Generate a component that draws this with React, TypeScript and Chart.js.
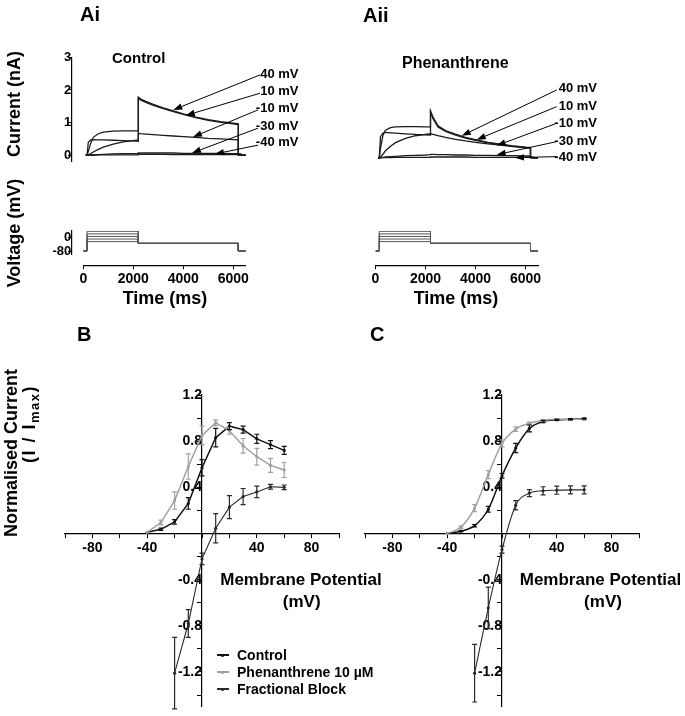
import React, { useEffect, useRef } from "react";
import { Chart, registerables } from "chart.js";

Chart.register(...registerables);

const PAGE_W = 685;
const PAGE_H = 716;
const FONT = "'Liberation Sans', Arial, Helvetica, sans-serif";

// ---------------- Panel A : current traces ----------------
const traceTimes = [100, 150, 200, 300, 400, 600, 800, 1200, 1600, 2000, 2199, 2200, 2300, 2500, 2800, 3200, 3600, 4000, 4500, 5000, 5500, 6000, 6199, 6200, 6350, 6500];
const stepLabels = ["40 mV", "10 mV", "-10 mV", "-30 mV", "-40 mV"];

const controlPlus40 = [0, 0, 0.40, 0.47, 0.48, 0.47, 0.47, 0.46, 0.45, 0.44, 0.43, 1.78, 1.72, 1.65, 1.56, 1.45, 1.36, 1.27, 1.17, 1.09, 1.03, 0.98, 0.96, 0.06, 0.02, 0];
const controlPlus10 = [0, 0, 0.12, 0.38, 0.55, 0.66, 0.71, 0.74, 0.75, 0.75, 0.74, 1.74, 1.69, 1.62, 1.53, 1.43, 1.34, 1.25, 1.15, 1.07, 1.01, 0.96, 0.94, 0.05, 0.02, 0];
const controlMinus10 = [0, 0, 0.01, 0.05, 0.10, 0.18, 0.25, 0.34, 0.41, 0.45, 0.47, 0.67, 0.66, 0.65, 0.63, 0.61, 0.59, 0.57, 0.55, 0.52, 0.50, 0.48, 0.47, 0.03, 0.01, 0];
const controlMinus30 = [0, 0, 0, 0.01, 0.01, 0.02, 0.03, 0.04, 0.05, 0.05, 0.06, 0.07, 0.07, 0.07, 0.07, 0.07, 0.07, 0.06, 0.06, 0.06, 0.06, 0.05, 0.05, 0.01, 0, 0];
const controlMinus40 = [0, 0, 0, 0, 0, 0.01, 0.01, 0.01, 0.01, 0.01, 0.01, 0.03, 0.03, 0.03, 0.03, 0.03, 0.02, 0.02, 0.02, 0.02, 0.02, 0.02, 0.02, 0, 0, 0];

const phenPlus40 = [0, 0, 0.65, 0.76, 0.78, 0.77, 0.76, 0.74, 0.72, 0.71, 0.70, 1.44, 1.25, 0.98, 0.84, 0.73, 0.63, 0.56, 0.48, 0.42, 0.37, 0.33, 0.32, 0.03, 0.01, 0];
const phenPlus10 = [0, 0, 0.30, 0.70, 0.85, 0.93, 0.95, 0.96, 0.96, 0.95, 0.95, 1.40, 1.20, 0.95, 0.81, 0.70, 0.61, 0.54, 0.46, 0.41, 0.36, 0.32, 0.31, 0.03, 0.01, 0];
const phenMinus10 = [0, 0, 0.03, 0.12, 0.22, 0.36, 0.47, 0.60, 0.68, 0.72, 0.74, 0.74, 0.72, 0.68, 0.63, 0.57, 0.52, 0.48, 0.43, 0.39, 0.35, 0.31, 0.30, 0.02, 0.01, 0];
const phenMinus30 = [0, 0, 0.01, 0.02, 0.03, 0.04, 0.05, 0.07, 0.08, 0.09, 0.10, 0.11, 0.11, 0.10, 0.10, 0.09, 0.09, 0.08, 0.08, 0.07, 0.07, 0.06, 0.06, 0.01, 0, 0];
const phenMinus40 = [0, 0, 0, 0.01, 0.01, 0.01, 0.02, 0.02, 0.02, 0.02, 0.02, 0.03, 0.03, 0.03, 0.03, 0.03, 0.03, 0.02, 0.02, 0.02, 0.02, 0.02, 0.02, 0, 0, 0];

const currentTicks = [0, 1, 2, 3];

// arrows: [tailTime, tailCurrent, headTime, headCurrent]
const controlArrows = [
  [7068, 2.46, 3600, 1.39],
  [7068, 1.90, 4100, 1.22],
  [6988, 1.39, 4388, 0.56],
  [6988, 0.83, 4348, 0.07],
  [6988, 0.31, 5268, 0.04],
];
const phenArrows = [
  [7248, 2.08, 3450, 0.68],
  [7248, 1.57, 4048, 0.56],
  [7248, 1.06, 4848, 0.38],
  [7248, 0.50, 4848, 0.10],
  [7248, 0.04, 5580, 0.01],
];

// ---------------- Panel A : voltage protocol ----------------
const protocolTimes = [0, 150, 2200, 6200, 6500];
const holdLevel = -80;
const stepLevels = [35, 20, 5, -10, -25];
const tailLevel = -35;
const voltageTicks = [-80, 0];
const timeTicks = [0, 2000, 4000, 6000];

// ---------------- Panels B and C ----------------
const seriesNames = ["Control", "Phenanthrene 10 µM", "Fractional Block"];
const potentials = [-40, -30, -20, -10, 0, 10, 20, 30, 40, 50, 60];
const blockPotentials = [-20, -10, 0, 10, 20, 30, 40, 50, 60];

const bControl = [0.01, 0.036, 0.10, 0.26, 0.57, 0.83, 0.93, 0.90, 0.82, 0.77, 0.72];
const bControlErr = [0, 0.01, 0.02, 0.05, 0.07, 0.08, 0.03, 0.03, 0.04, 0.035, 0.035];
const bPhen = [0.01, 0.095, 0.285, 0.58, 0.85, 0.96, 0.89, 0.76, 0.665, 0.59, 0.55];
const bPhenErr = [0, 0.02, 0.075, 0.11, 0.08, 0.025, 0.03, 0.063, 0.073, 0.06, 0.065];
const bBlock = [-1.21, -0.78, -0.22, 0.045, 0.228, 0.32, 0.36, 0.405, 0.40];
const bBlockErr = [0.31, 0.12, 0.05, 0.127, 0.10, 0.07, 0.05, 0.02, 0.02];

const cControl = [0, 0.02, 0.068, 0.21, 0.50, 0.74, 0.91, 0.97, 0.985, 0.99, 0.995];
const cControlErr = [0, 0.005, 0.01, 0.025, 0.02, 0.04, 0.03, 0.01, 0.005, 0.005, 0.005];
const cPhen = [0, 0.055, 0.22, 0.51, 0.78, 0.905, 0.955, 0.98, 0.99, 0.99, 0.99];
const cPhenErr = [0, 0.01, 0.03, 0.035, 0.03, 0.02, 0.01, 0.005, 0.005, 0.005, 0.005];
const cBlock = [-1.21, -0.645, -0.14, 0.245, 0.35, 0.37, 0.375, 0.378, 0.378];
const cBlockErr = [0.25, 0.18, 0.03, 0.04, 0.03, 0.035, 0.035, 0.035, 0.035];

const ivXTicks = [-100, -80, -60, -40, -20, 0, 20, 40, 60, 80, 100];
const ivXLabels = ["", "-80", "", "-40", "", "", "", "40", "", "80", ""];
const ivYTicks = [-1.4, -1.2, -1.0, -0.8, -0.6, -0.4, -0.2, 0, 0.2, 0.4, 0.6, 0.8, 1.0, 1.2];
const ivYLabels = ["", "-1.2", "", "-0.8", "", "-0.4", "", "", "", "0.4", "", "0.8", "", "1.2"];

// ---------------- styles ----------------
const BLACK = "#111111";
const GREY = "#a0a0a0";
const BLOCK = "#2a2a2a";
const TRACE = "#1c1c1c";

type Box = { l: number; t: number; r: number; b: number };

function padding(box: Box) {
  return { left: box.l, top: box.t, right: PAGE_W - box.r, bottom: PAGE_H - box.b };
}

function zeroSize(scale: any) {
  if (scale.isHorizontal()) scale.height = 0;
  else scale.width = 0;
}

function setTicks(values: number[]) {
  return (scale: any) => {
    scale.ticks = values.map((v) => ({ value: v }));
  };
}

const errorBarPlugin = {
  id: "errorBars",
  afterDatasetsDraw(chart: any) {
    const { ctx } = chart;
    const xs = chart.scales.x;
    const ys = chart.scales.y;
    chart.data.datasets.forEach((ds: any) => {
      if (!ds.errors) return;
      ctx.save();
      ctx.strokeStyle = ds.borderColor;
      ctx.lineWidth = 1.2;
      ds.data.forEach((p: any, j: number) => {
        const e = ds.errors[j];
        if (!e) return;
        const px = xs.getPixelForValue(p.x);
        const top = ys.getPixelForValue(p.y + e);
        const bot = ys.getPixelForValue(p.y - e);
        ctx.beginPath();
        ctx.moveTo(px, top);
        ctx.lineTo(px, bot);
        ctx.moveTo(px - 2.5, top);
        ctx.lineTo(px + 2.5, top);
        ctx.moveTo(px - 2.5, bot);
        ctx.lineTo(px + 2.5, bot);
        ctx.stroke();
      });
      ctx.restore();
    });
  },
};

function arrowPlugin(items: number[][]) {
  return {
    id: "arrows",
    afterDraw(chart: any) {
      const { ctx } = chart;
      const xs = chart.scales.x;
      const ys = chart.scales.y;
      ctx.save();
      ctx.strokeStyle = "#000";
      ctx.fillStyle = "#000";
      ctx.lineWidth = 1;
      items.forEach(([t0, i0, t1, i1]) => {
        const x0 = xs.getPixelForValue(t0);
        const y0 = ys.getPixelForValue(i0);
        const x1 = xs.getPixelForValue(t1);
        const y1 = ys.getPixelForValue(i1);
        const ang = Math.atan2(y1 - y0, x1 - x0);
        const len = 9;
        const half = 3.2;
        const bx = x1 - len * Math.cos(ang);
        const by = y1 - len * Math.sin(ang);
        ctx.beginPath();
        ctx.moveTo(x0, y0);
        ctx.lineTo(bx, by);
        ctx.stroke();
        ctx.beginPath();
        ctx.moveTo(x1, y1);
        ctx.lineTo(bx + half * Math.sin(ang), by - half * Math.cos(ang));
        ctx.lineTo(bx - half * Math.sin(ang), by + half * Math.cos(ang));
        ctx.closePath();
        ctx.fill();
      });
      ctx.restore();
    },
  };
}

const tickFont = (size: number) => ({ family: FONT, size, weight: "bold" as const });
const plainLabel = (v: any) => String(v);

function currentChart(canvas: HTMLCanvasElement, box: Box, traces: number[][], arrows: number[][], showAxis: boolean) {
  return new Chart(canvas, {
    type: "line",
    data: {
      datasets: traces.map((vals, k) => ({
        label: stepLabels[k],
        data: traceTimes.map((t, i) => ({ x: t, y: vals[i] })),
        borderColor: TRACE,
        borderWidth: 1.3,
        pointRadius: 0,
        tension: 0,
        fill: false,
      })),
    },
    options: {
      responsive: false,
      animation: false,
      devicePixelRatio: 1,
      layout: { padding: padding(box) },
      plugins: { legend: { display: false }, tooltip: { enabled: false } },
      scales: {
        x: { type: "linear", min: -480, max: 6500, display: false },
        y: {
          type: "linear",
          min: -0.2,
          max: 3,
          display: showAxis,
          position: { x: -480 } as any,
          afterFit: zeroSize,
          afterBuildTicks: setTicks(currentTicks),
          grid: { drawOnChartArea: false, tickLength: 3, color: "#000" },
          border: { color: "#000", width: 1.2 },
          ticks: { color: "#000", font: tickFont(13), padding: 2, callback: plainLabel },
        },
      },
    },
    plugins: [arrowPlugin(arrows)],
  });
}

function voltageChart(canvas: HTMLCanvasElement, box: Box, showY: boolean) {
  const [t0, tStep, tTest, tEnd, tLast] = protocolTimes;
  return new Chart(canvas, {
    type: "line",
    data: {
      datasets: stepLevels.map((lv) => ({
        data: [
          { x: t0, y: holdLevel },
          { x: tStep, y: holdLevel },
          { x: tStep, y: lv },
          { x: tTest, y: lv },
          { x: tTest, y: tailLevel },
          { x: tEnd, y: tailLevel },
          { x: tEnd, y: holdLevel },
          { x: tLast, y: holdLevel },
        ],
        borderColor: "#555",
        borderWidth: 1,
        pointRadius: 0,
        tension: 0,
        fill: false,
      })),
    },
    options: {
      responsive: false,
      animation: false,
      devicePixelRatio: 1,
      layout: { padding: padding(box) },
      plugins: { legend: { display: false }, tooltip: { enabled: false } },
      scales: {
        x: {
          type: "linear",
          min: 0,
          max: 6500,
          position: { y: -168 } as any,
          afterFit: zeroSize,
          afterBuildTicks: setTicks(timeTicks),
          grid: { drawOnChartArea: false, tickLength: 3, color: "#000" },
          border: { color: "#000", width: 1.2 },
          ticks: { color: "#000", font: tickFont(14), padding: 2, maxRotation: 0, callback: plainLabel },
        },
        y: {
          type: "linear",
          min: -98,
          max: 37,
          display: showY,
          position: { x: -480 } as any,
          afterFit: zeroSize,
          afterBuildTicks: setTicks(voltageTicks),
          grid: { drawOnChartArea: false, tickLength: 3, color: "#000" },
          border: { color: "#000", width: 1.2 },
          ticks: { color: "#000", font: tickFont(13), padding: 2, callback: plainLabel },
        },
      },
    },
  });
}

function ivChart(
  canvas: HTMLCanvasElement,
  box: Box,
  control: number[],
  controlErr: number[],
  phen: number[],
  phenErr: number[],
  block: number[],
  blockErr: number[],
  smooth: boolean
) {
  const lineOpts = (color: string, width: number) => ({
    borderColor: color,
    backgroundColor: color,
    borderWidth: width,
    pointRadius: 1.6,
    pointBorderWidth: 0,
    tension: smooth ? 0.35 : 0,
    cubicInterpolationMode: smooth ? ("monotone" as const) : ("default" as const),
    fill: false,
  });
  return new Chart(canvas, {
    type: "line",
    data: {
      datasets: [
        {
          label: seriesNames[2],
          data: blockPotentials.map((v, i) => ({ x: v, y: block[i] })),
          errors: blockErr,
          ...lineOpts(BLOCK, 1.1),
        } as any,
        {
          label: seriesNames[1],
          data: potentials.map((v, i) => ({ x: v, y: phen[i] })),
          errors: phenErr,
          ...lineOpts(GREY, 1.5),
        } as any,
        {
          label: seriesNames[0],
          data: potentials.map((v, i) => ({ x: v, y: control[i] })),
          errors: controlErr,
          ...lineOpts(BLACK, 1.5),
        } as any,
      ],
    },
    options: {
      responsive: false,
      animation: false,
      devicePixelRatio: 1,
      layout: { padding: padding(box) },
      plugins: { legend: { display: false }, tooltip: { enabled: false } },
      scales: {
        x: {
          type: "linear",
          min: -100,
          max: 100,
          position: { y: 0 } as any,
          afterFit: zeroSize,
          afterBuildTicks: setTicks(ivXTicks),
          grid: { drawOnChartArea: false, tickLength: 4, color: "#000" },
          border: { color: "#000", width: 1.2 },
          ticks: { color: "#000", font: tickFont(14), padding: 2, maxRotation: 0, autoSkip: false, callback: (_v: any, i: number) => ivXLabels[i] },
        },
        y: {
          type: "linear",
          min: -1.5,
          max: 1.2,
          position: { x: 0 } as any,
          afterFit: zeroSize,
          afterBuildTicks: setTicks(ivYTicks),
          grid: { drawOnChartArea: false, tickLength: 4, color: "#000" },
          border: { color: "#000", width: 1.2 },
          ticks: { color: "#000", font: tickFont(14), padding: 1, autoSkip: false, callback: (_v: any, i: number) => ivYLabels[i] },
        },
      },
    },
    plugins: [errorBarPlugin],
  });
}

type TextProps = { x: number; y: number; size: number; align?: "left" | "center" | "right"; children: React.ReactNode };

function Txt({ x, y, size, align = "left", children }: TextProps) {
  const shift = align === "center" ? "translateX(-50%)" : align === "right" ? "translateX(-100%)" : "none";
  return (
    <div
      style={{
        position: "absolute",
        left: x,
        top: y - 0.13 * size,
        fontSize: size,
        lineHeight: 1,
        fontWeight: "bold",
        whiteSpace: "nowrap",
        transform: shift,
        color: "#000",
      }}
    >
      {children}
    </div>
  );
}

function VTxt({ cx, cy, size, spacing = 0, children }: { cx: number; cy: number; size: number; spacing?: number; children: React.ReactNode }) {
  return (
    <div
      style={{
        position: "absolute",
        left: cx,
        top: cy,
        fontSize: size,
        lineHeight: 1,
        fontWeight: "bold",
        whiteSpace: "pre",
        letterSpacing: spacing,
        transform: "translate(-50%, -50%) rotate(-90deg)",
        color: "#000",
      }}
    >
      {children}
    </div>
  );
}

const aiLabelTops = [68.3, 86, 102.7, 120.7, 136.7];
const aiiLabelTops = [82.7, 101, 117.3, 136, 151.7];
const legendTops = [655, 672, 689];
const legendColors = [BLACK, GREY, BLOCK];

export default function App() {
  const r0 = useRef<HTMLCanvasElement>(null);
  const r1 = useRef<HTMLCanvasElement>(null);
  const r2 = useRef<HTMLCanvasElement>(null);
  const r3 = useRef<HTMLCanvasElement>(null);
  const r4 = useRef<HTMLCanvasElement>(null);
  const r5 = useRef<HTMLCanvasElement>(null);
  const refs = [r0, r1, r2, r3, r4, r5];

  useEffect(() => {
    const charts: Chart[] = [];
    charts.push(
      currentChart(r0.current!, { l: 71.3, t: 57.3, r: 245.8, b: 161.8 },
        [controlPlus40, controlPlus10, controlMinus10, controlMinus30, controlMinus40], controlArrows, true)
    );
    charts.push(
      currentChart(r1.current!, { l: 363.5, t: 59.9, r: 538, b: 164.5 },
        [phenPlus40, phenPlus10, phenMinus10, phenMinus30, phenMinus40], phenArrows, false)
    );
    charts.push(voltageChart(r2.current!, { l: 83.3, t: 231, r: 245.8, b: 254.1 }, true));
    charts.push(voltageChart(r3.current!, { l: 375.5, t: 231, r: 538, b: 254.1 }, false));
    charts.push(ivChart(r4.current!, { l: 65, t: 395, r: 339, b: 714.5 }, bControl, bControlErr, bPhen, bPhenErr, bBlock, bBlockErr, false));
    charts.push(ivChart(r5.current!, { l: 365, t: 395, r: 639, b: 714.5 }, cControl, cControlErr, cPhen, cPhenErr, cBlock, cBlockErr, true));
    return () => charts.forEach((c) => c.destroy());
  }, []);

  return (
    <div
      style={{
        position: "absolute",
        left: 0,
        top: 0,
        width: PAGE_W,
        height: PAGE_H,
        overflow: "hidden",
        background: "#fff",
        fontFamily: FONT,
      }}
    >
      <style>{"html,body{margin:0;padding:0;overflow:hidden;background:#fff}"}</style>
      {refs.map((r, i) => (
        <canvas key={i} ref={r} width={PAGE_W} height={PAGE_H} style={{ position: "absolute", left: 0, top: 0, width: PAGE_W, height: PAGE_H }} />
      ))}

      <Txt x={80} y={7} size={20}>Ai</Txt>
      <Txt x={363} y={8} size={20}>Aii</Txt>
      <Txt x={77} y={327} size={20}>B</Txt>
      <Txt x={370} y={327} size={20}>C</Txt>

      <Txt x={112} y={52.3} size={15}>Control</Txt>
      <Txt x={402} y={57.3} size={16}>Phenanthrene</Txt>

      {stepLabels.map((s, i) => (
        <Txt key={"a" + i} x={298.5} y={aiLabelTops[i]} size={13} align="right">{s}</Txt>
      ))}
      {stepLabels.map((s, i) => (
        <Txt key={"b" + i} x={597} y={aiiLabelTops[i]} size={13} align="right">{s}</Txt>
      ))}

      <VTxt cx={13.5} cy={103.5} size={18}>Current (nA)</VTxt>
      <VTxt cx={13.5} cy={233} size={18}>Voltage (mV)</VTxt>
      <Txt x={165} y={291.7} size={18} align="center">Time (ms)</Txt>
      <Txt x={456} y={291.7} size={18} align="center">Time (ms)</Txt>

      <VTxt cx={11} cy={453} size={18}>Normalised Current</VTxt>
      <VTxt cx={29.5} cy={424} size={18} spacing={1.5}>
        <span>{"(I / I"}<sub style={{ fontSize: 13, verticalAlign: "-4px" }}>max</sub>{")"}</span>
      </VTxt>

      <Txt x={301} y={573.3} size={17} align="center">Membrane Potential</Txt>
      <Txt x={301.7} y={595.5} size={17} align="center">(mV)</Txt>
      <Txt x={600.5} y={573.3} size={17} align="center">Membrane Potential</Txt>
      <Txt x={603} y={595.5} size={17} align="center">(mV)</Txt>

      {seriesNames.map((s, i) => (
        <React.Fragment key={"l" + i}>
          <div style={{ position: "absolute", left: 216.5, top: legendTops[i] - 0.6, width: 12, height: 1.3, background: legendColors[i] }} />
          <div style={{ position: "absolute", left: 221, top: legendTops[i] - 1.5, width: 3, height: 3, borderRadius: 2, background: legendColors[i] }} />
          <Txt x={237} y={legendTops[i] - 5} size={14}>{s}</Txt>
        </React.Fragment>
      ))}
    </div>
  );
}
